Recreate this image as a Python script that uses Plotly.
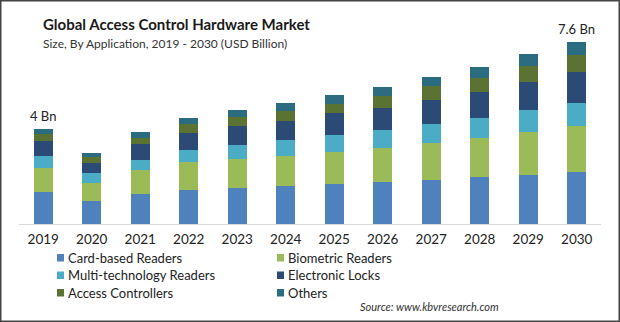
import plotly.graph_objects as go

years = ["2019", "2020", "2021", "2022", "2023", "2024", "2025", "2026", "2027", "2028", "2029", "2030"]
card_based = [1.33, 0.97, 1.27, 1.43, 1.52, 1.60, 1.68, 1.75, 1.84, 1.96, 2.05, 2.17]
biometric = [0.99, 0.75, 0.97, 1.14, 1.21, 1.25, 1.34, 1.42, 1.54, 1.64, 1.80, 1.92]
multi_tech = [0.51, 0.40, 0.45, 0.53, 0.58, 0.67, 0.68, 0.75, 0.79, 0.84, 0.89, 0.97]
electronic_locks = [0.64, 0.42, 0.63, 0.72, 0.79, 0.79, 0.92, 0.92, 1.00, 1.09, 1.21, 1.29]
access_controllers = [0.29, 0.25, 0.28, 0.36, 0.38, 0.42, 0.40, 0.50, 0.58, 0.58, 0.63, 0.71]
others = [0.22, 0.19, 0.26, 0.25, 0.29, 0.33, 0.38, 0.39, 0.39, 0.45, 0.50, 0.54]
series_names = ["Card-based Readers", "Biometric Readers", "Multi-technology Readers",
                "Electronic Locks", "Access Controllers", "Others"]
series_values = [card_based, biometric, multi_tech, electronic_locks, access_controllers, others]
colors = ["#4F81BD", "#9BBB59", "#4BACC6", "#2B4A75", "#5A7232", "#2C6C80"]
label_years = ["2019", "2030"]
label_texts = ["4 Bn", "7.6 Bn"]

FONT = "Lato"
W, H = 620, 322
L, R, T, B = 19, 19, 30, 98
pw, ph = W - L - R, H - T - B

fig = go.Figure()
for name, vals, col in zip(series_names, series_values, colors):
    fig.add_trace(go.Bar(x=years, y=vals, name=name, marker=dict(color=col, line=dict(width=0)),
                         width=0.4, showlegend=False))

totals = [sum(v) for v in zip(*series_values)]
for yr, txt in zip(label_years, label_texts):
    i = years.index(yr)
    fig.add_annotation(x=i, y=totals[i], text=txt, showarrow=False, yanchor="bottom", yshift=3,
                       font=dict(family=FONT, size=13, color="#222222"))

def px(xp):
    return (xp - L) / pw

def py(yp):
    return (H - B - yp) / ph

fig.add_annotation(xref="paper", yref="paper", x=px(41), y=py(24), xanchor="left", yanchor="middle",
                   text="<b>Global Access Control Hardware Market</b>", showarrow=False,
                   font=dict(family=FONT, size=15, color="#1a1a1a"))
fig.add_annotation(xref="paper", yref="paper", x=px(41), y=py(44), xanchor="left", yanchor="middle",
                   text="Size, By Application, 2019 - 2030 (USD Billion)", showarrow=False,
                   font=dict(family=FONT, size=12, color="#333333"))
fig.add_annotation(xref="paper", yref="paper", x=px(501), y=py(306), xanchor="right", yanchor="middle",
                   text="<i>Source: www.kbvresearch.com</i>", showarrow=False,
                   font=dict(family=FONT, size=11, color="#333333"))

# custom two-column legend
col_x = [57, 277]
row_y = [257.5, 275, 292.5]
for k, (name, col) in enumerate(zip(series_names, colors)):
    cx = col_x[k % 2]
    ry = row_y[k // 2]
    fig.add_shape(type="rect", xref="paper", yref="paper", x0=px(cx), x1=px(cx + 7),
                  y0=py(ry + 4), y1=py(ry - 3.5), line=dict(width=0), fillcolor=col)
    fig.add_annotation(xref="paper", yref="paper", x=px(cx + 10), y=py(ry), xanchor="left",
                       yanchor="middle", text=name, showarrow=False, borderpad=0,
                       font=dict(family=FONT, size=13, color="#222222"))

fig.add_shape(type="rect", xref="paper", yref="paper", x0=px(0.75), x1=px(W - 0.75),
              y0=py(H - 0.75), y1=py(0.75), line=dict(color="#444444", width=1.5))

fig.update_layout(
    width=W, height=H, barmode="stack", bargap=0.6,
    margin=dict(l=L, r=R, t=T, b=B, autoexpand=False),
    paper_bgcolor="white", plot_bgcolor="white",
    showlegend=False,
    xaxis=dict(type="category", range=[-0.5, 11.5], showgrid=False, showline=True,
               linecolor="#D9D9D9", linewidth=1, automargin=False,
               ticks="", tickfont=dict(family=FONT, size=13.5, color="#222222"), ticklabelstandoff=3),
    yaxis=dict(range=[0, ph / 23.95], visible=False, showgrid=False, automargin=False),
)

fig.write_html("out.html")
